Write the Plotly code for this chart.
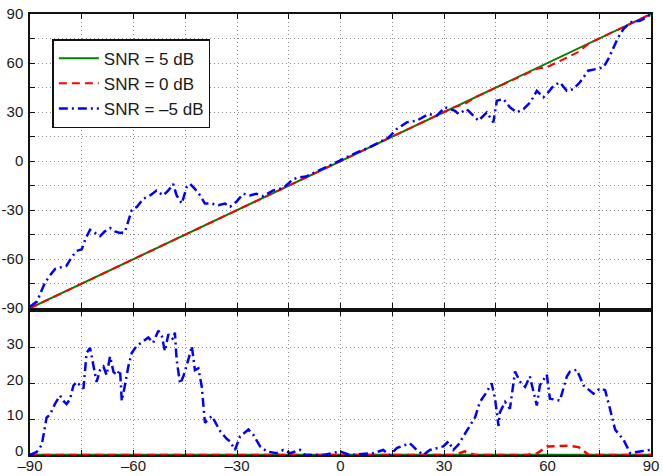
import plotly.graph_objects as go

# ---------------- data ----------------
ANG = [-90, -87, -84, -81, -78, -75, -72, -69, -66, -63, -60, -57, -54, -51, -48, -45,
       -42, -39, -36, -33, -30, -27, -24, -21, -18, -15, -12, -9, -6, -3, 0, 3, 6, 9,
       12, 15, 18, 21, 24, 27, 30, 33, 36, 39, 42, 45, 48, 51, 54, 57, 60, 63, 66, 69,
       72, 75, 78, 81, 84, 87, 90]

EST_5DB = [-90, -87, -84, -81, -78, -75, -72, -69, -66, -63, -60, -57, -54, -51, -48, -45,
           -42, -39, -36, -33, -30, -27, -24, -21, -18, -15, -12, -9, -6, -3, 0, 3, 6, 9,
           12, 15, 18, 21, 24, 27, 30, 33, 36, 39, 42, 45, 48, 51, 54, 57, 60, 63, 66, 69,
           72, 75, 78, 81, 84, 87, 90]
EST_0DB = [-90, -87, -84, -81, -78, -75, -72, -69, -66, -63, -60, -57, -54, -51, -48, -45,
           -42, -39, -36, -33, -30, -27, -24, -21, -18, -15, -12, -9, -6, -3, 0, 3, 6, 9,
           12, 15, 18, 21, 24, 27, 30, 33, 35, 39, 42, 45, 48, 51, 54, 56.5, 57.6, 60.5, 63.4, 66.8,
           72, 75, 78, 81, 84, 87, 90]

ERR_5DB = [0] * 61
ERR_0DB = [0, 0, 0, 0, 0, 0, 0, 0, 0, 0, 0, 0, 0, 0, 0, 0,
           0, 0, 0, 0, 0, 0, 0, 0, 0, 0, 0, 0, 0, 0, 0, 0, 0, 0,
           0, 0, 0, 0, 0, 0, 0, 0, 1, 0, 0, 0, 0, 0, 0, 0.5, 2.4, 2.5, 2.6, 2.2,
           0, 0, 0, 0, 0, 0, 0]

ANG_M5_EST = [-90, -88, -86, -84.6, -82.7, -81, -79.4, -78, -76.5, -75, -74, -72.6, -71.2,
              -69.7, -68.3, -66.8, -65.4, -63.9, -62.5, -61.5, -60.5, -59, -57.1, -55.2,
              -53.3, -51.4, -49.9, -48.5, -47.5, -46, -44.6, -43.6, -42.2, -40.7, -39.3,
              -37.3, -35.4, -33.5, -32, -30, -28.2, -26.3, -24.4, -22.4, -19.5, -16.6,
              -13.7, -12, -10, -7, -4, -1, 2, 5, 8, 11, 14, 16.3, 19.2, 22.1, 25.5, 27.9,
              30.3, 33.2, 34.2, 36.6, 38.5, 40, 42.4, 44.3, 45.3, 47.2, 49.1, 51.1, 53, 55,
              56.9, 58.8, 60.2, 61.7, 63.6, 65.6, 67.5, 69.4, 71.8, 73.8, 76.2, 77.6, 79.1,
              80.5, 82, 84, 86.8, 88.8, 90]
EST_M5DB = [-89, -86, -76, -71, -66, -65, -64, -59, -55, -54, -48, -42, -44, -46, -43, -41,
            -43, -44, -43.5, -36, -30, -28, -23, -21, -18, -21, -18, -14, -21, -26, -16,
            -14, -17, -21, -26, -26, -27, -26, -28, -24.5, -20, -21, -20, -21.5, -18, -16.5,
            -11, -10, -9.5, -6.5, -3.5, -0.5, 2.5, 5.5, 8, 11, 14.5, 19.6, 23.7, 24.7, 28.8,
            27.8, 32.9, 30.8, 28.8, 31.8, 27.8, 24.7, 29.8, 23.7, 36.9, 38, 32.9, 29.8, 31.8,
            35.9, 43, 39, 42, 46, 48.2, 43, 44, 48.2, 55.3, 56.3, 57.3, 62.4, 69.6, 75.7,
            80.8, 84.9, 85.9, 88, 90]

ANG_M5_ERR = [-90, -88, -86.6, -86.1, -85.2, -84.2, -82.8, -81.3, -80.3, -79.4, -78.4, -77.4,
              -76.5, -74.5, -73.6, -72.6, -72.1, -71.2, -70.7, -69.7, -68.7, -67.8, -66.8,
              -65.8, -64.9, -63.9, -63.4, -62.5, -61.5, -60.5, -59.1, -57.1, -55.7, -54.3,
              -52.8, -51.8, -50.9, -49.9, -48.5, -48, -47.5, -46.5, -45.6, -44.1, -43.1,
              -42.2, -41.2, -40.2, -39.8, -39.3, -37.3, -36.4, -34.9, -33, -32, -30.6, -29.1,
              -26.7, -25.3, -23.3, -21.4, -18.5, -16.6, -14.6, -11.7, -10.3, -5, -0.1, 2.8,
              9.5, 12.4, 14.3, 16.3, 20.1, 22.1, 24, 25.9, 29.8, 31.3, 32.7, 34.2, 35.6, 37.5,
              39, 40.4, 42.4, 43.8, 44.8, 45.8, 46.2, 47.7, 49.1, 50.6, 52, 53.5, 54.9, 56.9,
              57.8, 59.8, 60.7, 63.6, 65.6, 66.5, 68.5, 70.4, 73.3, 75.2, 76.7, 78.1, 79.6,
              82, 84, 86.8, 89.7]
ERR_M5DB = [0, 0.9, 2.8, 6, 10.4, 11.3, 14.2, 16.6, 15.1, 14.2, 15.6, 19.4, 20.4, 18.5, 28.5,
            29.9, 27.5, 23.2, 20.4, 23.7, 24.7, 22.3, 27.5, 23.2, 22.3, 23.7, 15.1, 19.4, 24.7,
            28.5, 30.4, 31.8, 32.8, 31.3, 34.7, 33.2, 29, 33.7, 32.3, 34.2, 26.6, 19.9, 21.8,
            26.6, 30.4, 23.7, 24.2, 19, 14.2, 9, 10.9, 9.4, 6.7, 4.5, 3.8, 1.4, 5.2, 7.1, 5.7,
            2.4, 1, 0.5, 1.4, 0.5, 1.4, 0, 0, 1, 0, 0.5, 1.4, 0, 1.9, 3.3, 1.4, 0, 1.4, 2.4,
            3.8, 1.4, 2.9, 5.2, 8.1, 10.5, 14.8, 17.6, 20, 15.7, 8.1, 11.9, 14.8, 12.9, 23.3,
            20.5, 19, 21.9, 13.8, 19.5, 22.4, 15.7, 15.2, 21.9, 23.3, 23.8, 19.5, 17.1, 18.6,
            18.1, 12.9, 7.1, 4.3, 0.5, 1, 1.4]

SERIES_NAMES = ["SNR = 5 dB", "SNR = 0 dB", "SNR = \u20135 dB"]

X_TICKS = [-90, -75, -60, -45, -30, -15, 0, 15, 30, 45, 60, 75, 90]
X_TICK_TEXT = ["\u201390", "", "\u201360", "", "\u201330", "", "0", "", "30", "", "60", "", "90"]
Y1_TICKS = [-90, -75, -60, -45, -30, -15, 0, 15, 30, 45, 60, 75, 90]
Y1_TICK_TEXT = ["-90", "", "-60", "", "-30", "", "0", "", "30", "", "60", "", "90"]
Y2_TICKS = [0, 10, 20, 30, 40]
Y2_TICK_TEXT = ["0", "10", "20", "30", ""]

# ---------------- styles ----------------
GREEN = "#008000"
RED = "#ff0000"
BLUE = "#0000ff"
FONT = "Liberation Sans, Arial, sans-serif"
TXT = "#1a1a1a"

fig = go.Figure()

# top panel
fig.add_trace(go.Scatter(x=ANG, y=EST_5DB, mode="lines", name=SERIES_NAMES[0],
                         line=dict(color=GREEN, width=2), legendgroup="a",
                         xaxis="x", yaxis="y"))
fig.add_trace(go.Scatter(x=ANG, y=EST_0DB, mode="lines", name=SERIES_NAMES[1],
                         line=dict(color=RED, width=2, dash="8px,5px"), legendgroup="b",
                         xaxis="x", yaxis="y"))
fig.add_trace(go.Scatter(x=ANG_M5_EST, y=EST_M5DB, mode="lines", name=SERIES_NAMES[2],
                         line=dict(color=BLUE, width=2.5, dash="9px,4px,2px,4px"),
                         legendgroup="c", xaxis="x", yaxis="y"))

# bottom panel
fig.add_trace(go.Scatter(x=ANG, y=ERR_5DB, mode="lines", showlegend=False,
                         line=dict(color=GREEN, width=2.5), xaxis="x2", yaxis="y2"))
fig.add_trace(go.Scatter(x=ANG, y=ERR_0DB, mode="lines", showlegend=False,
                         line=dict(color=RED, width=2.5, dash="8px,5px"),
                         xaxis="x2", yaxis="y2"))
fig.add_trace(go.Scatter(x=ANG_M5_ERR, y=ERR_M5DB, mode="lines", showlegend=False,
                         line=dict(color=BLUE, width=2.5, dash="9px,4px,2px,4px"),
                         xaxis="x2", yaxis="y2"))

axis_common = dict(
    showline=True, linecolor="#111", linewidth=1.5, mirror="ticks",
    ticks="inside", ticklen=5, tickwidth=1, tickcolor="#111",
    showgrid=True, gridcolor="#8c8c8c", gridwidth=1, griddash="1px,3px",
    zeroline=False, automargin=False,
    tickfont=dict(family=FONT, size=15, color=TXT),
)

fig.update_layout(
    width=663, height=476,
    margin=dict(l=30, r=12, t=14, b=21),
    paper_bgcolor="white", plot_bgcolor="white",
    font=dict(family=FONT, size=15, color=TXT),
    xaxis=dict(domain=[0, 1], range=[-90, 90], anchor="y",
               tickmode="array", tickvals=X_TICKS, ticktext=[""] * len(X_TICKS),
               **axis_common),
    yaxis=dict(domain=[0.333, 1], range=[-90, 90], anchor="x",
               tickmode="array", tickvals=Y1_TICKS, ticktext=Y1_TICK_TEXT,
               ticklabelstandoff=2, **axis_common),
    xaxis2=dict(domain=[0, 1], range=[-90, 90], anchor="y2",
                tickmode="array", tickvals=X_TICKS, ticktext=X_TICK_TEXT,
                ticklabelstandoff=-4, **axis_common),
    yaxis2=dict(domain=[0, 0.325], range=[0, 40], anchor="x2",
                tickmode="array", tickvals=Y2_TICKS, ticktext=Y2_TICK_TEXT,
                ticklabelstandoff=2, ticklabelshift=-4, **axis_common),
    legend=dict(x=0.036, y=0.943, xanchor="left", yanchor="top",
                bgcolor="white", bordercolor="#111", borderwidth=1.5,
                font=dict(family=FONT, size=17, color=TXT),
                traceorder="grouped", tracegroupgap=0,
                itemwidth=40),
    showlegend=True,
)

fig.write_html("out.html")
